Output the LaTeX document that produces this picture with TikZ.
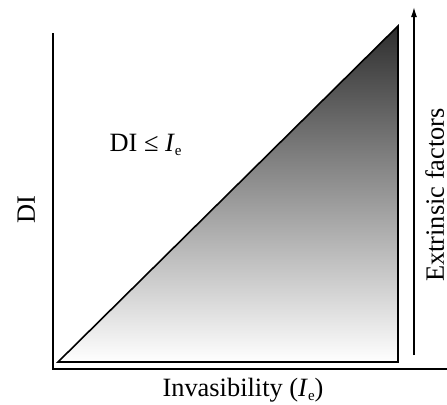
\documentclass[tikz,border=0pt]{standalone}
\usepackage{fontspec}
\setmainfont{Liberation Serif}
\usetikzlibrary{arrows.meta}
\begin{document}
\begin{tikzpicture}[x=0.5pt,y=-0.5pt,
  axis/.style={line width=1.1pt,line cap=rect},
  edge/.style={line width=0.8pt,line join=miter},
  lbl/.style={font=\fontsize{13.2}{15}\selectfont,inner sep=0pt}]
\newcommand{\Ie}{\textit{I}\raisebox{-0.35ex}{\fontsize{7.5}{8}\selectfont e}}
\useasboundingbox (0,0) rectangle (447,404);
% triangle
\coordinate (A) at (58,362);
\coordinate (B) at (398,362);
\coordinate (C) at (398,26);
\shade[top color=black!82,bottom color=white] (A) -- (B) -- (C) -- cycle;
\draw[edge] (A) -- (B) -- (C) -- cycle;
% axes
\coordinate (O) at (53,369);
\coordinate (Ytop) at (53,34);
\coordinate (Xend) at (447,369);
\draw[axis] (Ytop) -- (O) -- (Xend);
% arrow
\coordinate (E1) at (414,355);
\coordinate (E2) at (414,7);
\draw[line width=0.7pt,-{Latex[length=5pt,width=3pt]}] (E1) -- (E2);
% labels
\node[lbl,rotate=90,anchor=base] (di) at (35,210) {DI};
\node[lbl,anchor=base east] (rel) at (182,151) {DI ≤ \Ie};
\node[lbl,anchor=base] (xl) at (243,396) {Invasibility (\Ie)};
\node[lbl,rotate=90,anchor=base] (ext) at (444,195) {Extrinsic factors};
\end{tikzpicture}
\end{document}
